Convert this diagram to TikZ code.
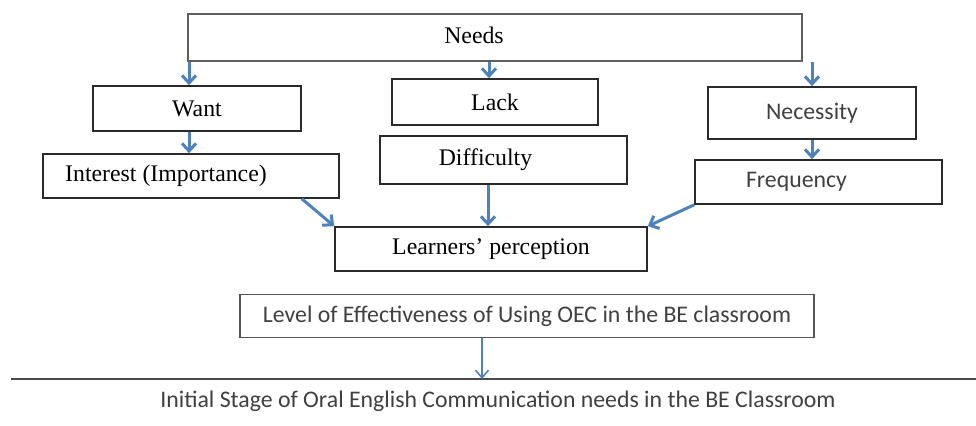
\documentclass[tikz,border=0pt]{standalone}
\usepackage{fontspec}
\setmainfont{Liberation Serif}
\newfontfamily\calib{Carlito}
\usetikzlibrary{arrows.meta,calc}
\definecolor{arrowblue}{HTML}{4F81BD}
\definecolor{boxline}{HTML}{2A2A2A}
\definecolor{sanstext}{HTML}{404040}
\begin{document}
\begin{tikzpicture}[x=0.5pt,y=-0.5pt,
  box/.style={draw=boxline, line width=0.8pt, rectangle, inner sep=0pt, font=\fontsize{11.9}{13}\selectfont},
  sbox/.style={box, font=\calib\fontsize{11.9}{13}\selectfont, text=sanstext},
  flow/.style={draw=arrowblue, line width=1.5pt, -{Straight Barb[length=3.8pt,width=7pt]}},
  thinflow/.style={draw=arrowblue, line width=0.8pt, -{Straight Barb[length=3.8pt,width=6.5pt]}}
]
\useasboundingbox (0,0) rectangle (976,426);

\node[box, draw=boxline!75, minimum width=307pt, minimum height=23.5pt] (needs) at (495,37.5) {\raisebox{2pt}{Needs}\hspace*{21pt}};
\node[box, minimum width=104pt, minimum height=22.5pt] (want) at (197,108.5) {Want};
\node[box, minimum width=148pt, minimum height=22pt] (interest) at (191,176) {\raisebox{-1pt}{Interest (Importance)}\hspace*{25pt}};
\node[box, minimum width=103pt, minimum height=23pt] (lack) at (495,102) {Lack};
\node[box, minimum width=123.5pt, minimum height=24pt] (difficulty) at (503.5,160) {Difficulty\hspace*{18pt}};
\node[sbox, minimum width=104pt, minimum height=26pt] (necessity) at (812,113) {Necessity};
\node[sbox, minimum width=123.5pt, minimum height=22pt] (frequency) at (818.5,182) {Frequency\hspace*{22pt}};
\node[box, minimum width=156pt, minimum height=22pt] (learners) at (491,249) {Learners’ perception};
\node[sbox, draw=boxline!80, minimum width=287pt, minimum height=21.5pt] (level) at (527,316) {Level of Effectiveness of Using OEC in the BE classroom};

\coordinate (lineL) at (11,379);
\coordinate (lineR) at (976,379);
\draw[draw=boxline!85, line width=0.8pt] (lineL) -- (lineR);
\node[font=\calib\fontsize{11.9}{13}\selectfont, text=sanstext] (caption) at (498,401) {Initial Stage of Oral English Communication needs in the BE Classroom};

\draw[flow] ([xshift=-4pt]needs.south -| want.north) -- ([xshift=-4pt]want.north);
\draw[flow] ([xshift=-4pt]want.south) -- ([xshift=-4pt]want.south |- interest.north);
\draw[flow] ([xshift=-3pt]needs.south -| lack.north) -- ([xshift=-3pt]lack.north);
\draw[flow] (needs.south -| necessity.north) -- (necessity.north);
\draw[flow] (necessity.south) -- (necessity.south |- frequency.north);
\draw[flow] ([xshift=-1.5pt]difficulty.south -| learners.north) -- ([xshift=-1.5pt]learners.north);
\draw[flow] ([xshift=-19pt]interest.south east) -- (learners.north west);
\draw[flow] (frequency.south west) -- (learners.north east);
\draw[thinflow] ([xshift=-22.5pt]level.south) -- ([xshift=-22.5pt]level.south |- lineL);
\end{tikzpicture}
\end{document}
